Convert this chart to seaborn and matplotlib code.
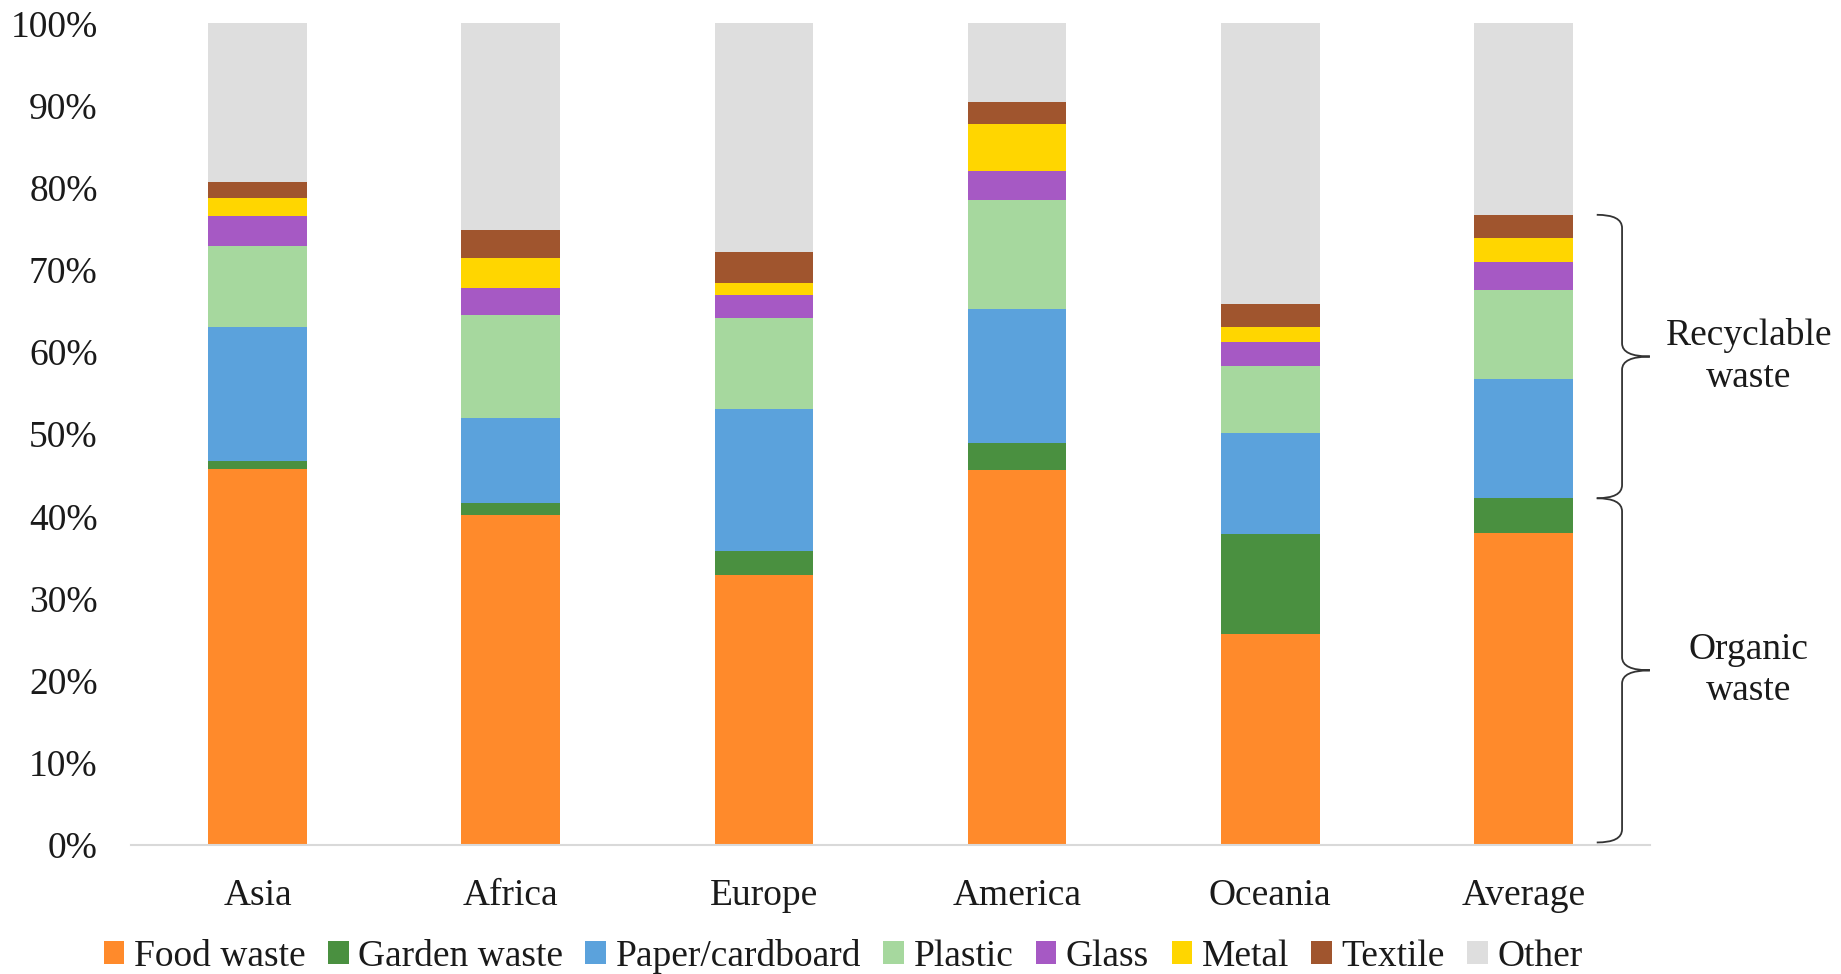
import numpy as np
import pandas as pd
import matplotlib
matplotlib.use("Agg")
import matplotlib.pyplot as plt
from matplotlib.path import Path
from matplotlib.patches import PathPatch, Patch
import seaborn as sns

sns.set_style("white")
plt.rcParams["font.family"] = "serif"
plt.rcParams["font.serif"] = ["Liberation Serif", "Times New Roman", "DejaVu Serif"]

regions = ["Asia", "Africa", "Europe", "America", "Oceania", "Average"]
categories = ["Food waste", "Garden waste", "Paper/cardboard", "Plastic",
              "Glass", "Metal", "Textile", "Other"]

# share of each waste type (%)
food = [45.7, 40.1, 32.8, 45.6, 25.7, 38.0]
garden = [1.0, 1.5, 3.0, 3.3, 12.2, 4.2]
paper = [16.4, 10.4, 17.3, 16.3, 12.2, 14.5]
plastic = [9.8, 12.5, 11.0, 13.3, 8.2, 10.9]
glass = [3.7, 3.3, 2.8, 3.5, 2.9, 3.4]
metal = [2.2, 3.7, 1.5, 5.7, 1.9, 2.9]
textile = [1.9, 3.4, 3.8, 2.7, 2.8, 2.8]
other = [19.3, 25.1, 27.8, 9.6, 34.1, 23.3]

colors = ["#FF8A2B", "#4A9040", "#5BA2DC", "#A6D89E",
          "#A659C4", "#FFD600", "#A0552E", "#DEDEDE"]

layers = [food, garden, paper, plastic, glass, metal, textile, other]
cum = np.cumsum(np.array(layers), axis=0)

df = pd.DataFrame({"region": regions})
for name, vals in zip(categories, cum):
    df[name] = vals

fig = plt.figure(figsize=(18.41, 9.74), dpi=100)
ax = fig.add_axes([0.0712, 0.1325, 0.8250, 0.8435])

# draw from the top of the stack down so each layer covers the one above
for name, c in zip(categories[::-1], colors[::-1]):
    sns.barplot(data=df, x="region", y=name, color=c, saturation=1,
                width=0.39, errorbar=None, ax=ax, linewidth=0)

ax.set_xlim(-0.5, 5.5)
ax.set_ylim(0, 100)
ax.set_yticks(np.arange(0, 101, 10))
ax.set_yticklabels([f"{v}%" for v in range(0, 101, 10)])
ax.set_xlabel("")
ax.set_ylabel("")
ax.tick_params(axis="both", length=0, labelsize=27, labelcolor="#1a1a1a")
ax.tick_params(axis="y", pad=24)
ax.tick_params(axis="x", pad=24)
for s in ["left", "top", "right"]:
    ax.spines[s].set_visible(False)
ax.spines["bottom"].set_color("#d9d9d9")
ax.spines["bottom"].set_linewidth(1.5)


def brace(ax, y0, y1, x_tip=5.29, x_line=5.39, x_mid=5.50, r=1.6):
    ym = (y0 + y1) / 2
    verts = [(x_tip, y1), (x_line, y1), (x_line, y1 - r),
             (x_line, ym + r),
             (x_line, ym), (x_mid, ym),
             (x_line, ym), (x_line, ym - r),
             (x_line, y0 + r),
             (x_line, y0), (x_tip, y0)]
    codes = [Path.MOVETO, Path.CURVE3, Path.CURVE3,
             Path.LINETO,
             Path.CURVE3, Path.CURVE3,
             Path.CURVE3, Path.CURVE3,
             Path.LINETO,
             Path.CURVE3, Path.CURVE3]
    ax.add_patch(PathPatch(Path(verts, codes), fill=False, lw=1.3,
                           edgecolor="#333333", clip_on=False))
    return ym


top_rec = cum[6][-1]
split = cum[1][-1]
ym1 = brace(ax, split, top_rec)
ym2 = brace(ax, 0.3, split)
ax.text(5.89, ym1, "Recyclable\nwaste", ha="center", va="center",
        fontsize=27, color="#1a1a1a", linespacing=1.25, clip_on=False)
ax.text(5.89, ym2, "Organic\nwaste", ha="center", va="center",
        fontsize=27, color="#1a1a1a", linespacing=1.25, clip_on=False)

handles = [Patch(facecolor=c, edgecolor="none", label=n)
           for n, c in zip(categories, colors)]
fig.legend(handles=handles, loc="center", bbox_to_anchor=(0.458, 0.018),
           ncol=8, frameon=False, fontsize=27, handlelength=0.55,
           handleheight=0.55, handletextpad=0.25, columnspacing=0.6,
           labelcolor="#1a1a1a")

fig.savefig("out.png", dpi=100)
